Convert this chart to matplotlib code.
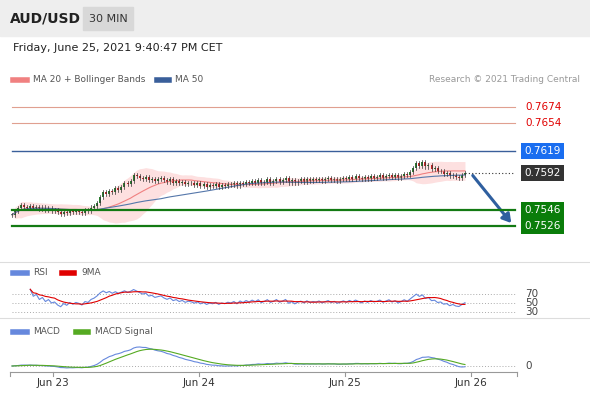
import matplotlib
matplotlib.use("Agg")
import matplotlib.pyplot as plt
import numpy as np
import pandas as pd
from matplotlib.patches import Rectangle, FancyArrowPatch

closes = [0.7540,0.7545,0.7548,0.7552,0.7550,0.7549,0.7551,0.7548,0.7550,0.7547,
0.7549,0.7546,0.7548,0.7545,0.7546,0.7543,0.7541,0.7544,0.7542,0.7545,
0.7543,0.7545,0.7544,0.7542,0.7546,0.7545,0.7549,0.7551,0.7555,0.7562,
0.7568,0.7566,0.7570,0.7568,0.7573,0.7571,0.7575,0.7580,0.7578,0.7582,
0.7590,0.7588,0.7586,0.7584,0.7587,0.7583,0.7585,0.7582,0.7584,0.7586,
0.7583,0.7581,0.7584,0.7580,0.7582,0.7579,0.7581,0.7578,0.7580,0.7579,
0.7577,0.7579,0.7576,0.7578,0.7575,0.7577,0.7576,0.7578,0.7575,0.7577,
0.7576,0.7578,0.7577,0.7579,0.7576,0.7580,0.7578,0.7581,0.7579,0.7582,
0.7580,0.7583,0.7579,0.7581,0.7584,0.7580,0.7582,0.7585,0.7581,0.7583,
0.7586,0.7580,0.7583,0.7579,0.7582,0.7584,0.7581,0.7585,0.7582,0.7584,
0.7583,0.7585,0.7582,0.7584,0.7586,0.7583,0.7585,0.7582,0.7584,0.7586,
0.7584,0.7587,0.7585,0.7588,0.7586,0.7584,0.7587,0.7585,0.7588,0.7586,
0.7587,0.7589,0.7586,0.7588,0.7590,0.7587,0.7589,0.7586,0.7588,0.7591,
0.7589,0.7593,0.7598,0.7604,0.7601,0.7605,0.7600,0.7602,0.7597,0.7598,
0.7594,0.7595,0.7591,0.7592,0.7588,0.7590,0.7587,0.7586,0.7589,0.7592]
levels = [0.7674, 0.7654, 0.7619, 0.7592, 0.7546, 0.7526]
level_labels = ["0.7674", "0.7654", "0.7619", "0.7592", "0.7546", "0.7526"]
xtick_labels = ["Jun 23", "Jun 24", "Jun 25", "Jun 26"]
xtick_bars = [13.5, 61.5, 109.5, 151]

W, H = 590, 400
fig = plt.figure(figsize=(5.9, 4.0), dpi=100)
def px(i): return 12 + 3.04 * np.asarray(i)
def ax_at(top, bottom):
    a = fig.add_axes([0, (H - bottom) / H, 1, (bottom - top) / H])
    a.set_xlim(0, W); a.axis("off"); return a

hdr = fig.add_axes([0, 0, 1, 1]); hdr.set_xlim(0, W); hdr.set_ylim(H, 0); hdr.axis("off")
hdr.add_patch(Rectangle((0, 0), W, 36, color="#eeeeee"))
hdr.text(10, 18, "AUD/USD", fontsize=10, fontweight="bold", va="center", color="#222")
hdr.add_patch(Rectangle((83, 7), 50, 23, color="#d8d8d8"))
hdr.text(108, 18.5, "30 MIN", fontsize=8, va="center", ha="center", color="#333")
hdr.text(13, 48, "Friday, June 25, 2021 9:40:47 PM CET", fontsize=8, va="center", color="#222")
for y in (262, 318):
    hdr.plot([0, W], [y, y], color="#dddddd", lw=0.8)

c = pd.Series(closes)
n = len(c)
o = c.shift(1).fillna(c.iloc[0])
x = px(np.arange(n))

ax = ax_at(60, 262)
ax.set_ylim(0.7526 - 36 / 8041, 0.7526 + 166 / 8041)
ma20 = c.rolling(20, min_periods=1).mean(); sd = c.rolling(20, min_periods=1).std().fillna(0)
ma50 = c.rolling(50, min_periods=1).mean()
ax.fill_between(x, ma20 - 2 * sd, ma20 + 2 * sd, color="#fde0e0", lw=0)
ax.plot(x, ma20, color="#f08080", lw=0.8)
ax.plot(x, ma50, color="#5577aa", lw=0.8)
for i in range(n):
    up = c[i] >= o[i]
    col = "#2e7d32" if up else "#c62828"
    lo, hi = min(c[i], o[i]), max(c[i], o[i])
    ax.plot([x[i], x[i]], [lo - 0.00025, hi + 0.00025], color="#333", lw=0.5)
    ax.add_patch(Rectangle((x[i] - 1, lo), 2, max(hi - lo, 0.00005), color=col, lw=0))
for lv, lab in zip(levels, level_labels):
    if lab in ("0.7674", "0.7654"):
        ax.plot([12, 515], [lv, lv], color="#e0a090", lw=0.8)
        ax.text(525, lv, lab, color="#e00000", fontsize=7.5, va="center")
    elif lab == "0.7619":
        ax.plot([12, 515], [lv, lv], color="#3a5f9a", lw=1)
        ax.text(524, lv, lab, color="white", fontsize=7.5, va="center",
                bbox=dict(boxstyle="square,pad=0.3", fc="#1a6ef0", ec="none"))
    elif lab == "0.7592":
        ax.plot([x[-1], 515], [lv, lv], color="#333", lw=0.8, ls=(0, (1, 2)))
        ax.text(524, lv, lab, color="white", fontsize=7.5, va="center",
                bbox=dict(boxstyle="square,pad=0.3", fc="#333333", ec="none"))
    else:
        ax.plot([12, 515], [lv, lv], color="#137a13", lw=1.6)
        ax.text(524, lv, lab, color="white", fontsize=7.5, va="center",
                bbox=dict(boxstyle="square,pad=0.3", fc="#0a7d0a", ec="none"))
ax.add_patch(FancyArrowPatch((471, closes[-1] - 0.00005), (513, levels[5] + 0.0001),
             arrowstyle="-|>,head_width=3,head_length=5", color="#2f5f9f", lw=2.2))
ax.plot([13, 27], [0.7708, 0.7708], color="#f08080", lw=4)
ax.text(33, 0.7708, "MA 20 + Bollinger Bands", fontsize=6.5, color="#555", va="center")
ax.plot([157, 169], [0.7708, 0.7708], color="#3a5f9a", lw=4)
ax.text(175, 0.7708, "MA 50", fontsize=6.5, color="#555", va="center")
ax.text(580, 0.7708, "Research © 2021 Trading Central", fontsize=6.5, color="#999", va="center", ha="right")

d = c.diff().fillna(0)
g = d.clip(lower=0).ewm(alpha=1/14).mean(); l = (-d.clip(upper=0)).ewm(alpha=1/14).mean()
rsi = 100 - 100 / (1 + g / l.replace(0, 1e-9))
rsi[:6] = np.nan
rsi9 = rsi.rolling(9, min_periods=1).mean()
ar = ax_at(262, 318)
ar.set_ylim(30 - 6 * 2.22, 70 + 32 * 2.22)
for lv in (70, 50, 30):
    ar.plot([12, 515], [lv, lv], color="#aaa", lw=0.7, ls=(0, (1, 2)))
    ar.text(525, lv, str(lv), fontsize=7.5, va="center", color="#444")
ar.plot(x, rsi, color="#6688dd", lw=0.8)
ar.plot(x, rsi9, color="#e00000", lw=0.8)
ar.plot([13, 27], [117, 117], color="#6688dd", lw=4); ar.text(33, 117, "RSI", fontsize=6.5, color="#555", va="center")
ar.plot([62, 74], [117, 117], color="#e00000", lw=4); ar.text(81, 117, "9MA", fontsize=6.5, color="#555", va="center")

macd = c.ewm(span=12).mean() - c.ewm(span=26).mean()
sig = macd.ewm(span=9).mean()
am = ax_at(318, 372)
m = float(max(macd.max(), sig.max()))
am.set_ylim(-m * 6 / 19, m * 48 / 19)
am.plot([12, 515], [0, 0], color="#aaa", lw=0.7, ls=(0, (1, 2)))
am.text(525, 0, "0", fontsize=7.5, va="center", color="#444")
am.plot(x, macd, color="#6688dd", lw=0.8)
am.plot(x, sig, color="#55aa22", lw=0.8)
yl = m * 34 / 19
am.plot([13, 27], [yl, yl], color="#6688dd", lw=4); am.text(33, yl, "MACD", fontsize=6.5, color="#555", va="center")
am.plot([76, 88], [yl, yl], color="#55aa22", lw=4); am.text(95, yl, "MACD Signal", fontsize=6.5, color="#555", va="center")

hdr.plot([10, 517], [372, 372], color="#999", lw=0.8)
for b, lab in zip(xtick_bars, xtick_labels):
    xp = float(px(b))
    hdr.plot([xp, xp], [372, 376], color="#999", lw=0.8)
    hdr.text(xp, 383, lab, fontsize=7.5, ha="center", va="center", color="#333")
for xp in (10, 517):
    hdr.plot([xp, xp], [372, 376], color="#999", lw=0.8)

fig.savefig("out.png", dpi=100)
